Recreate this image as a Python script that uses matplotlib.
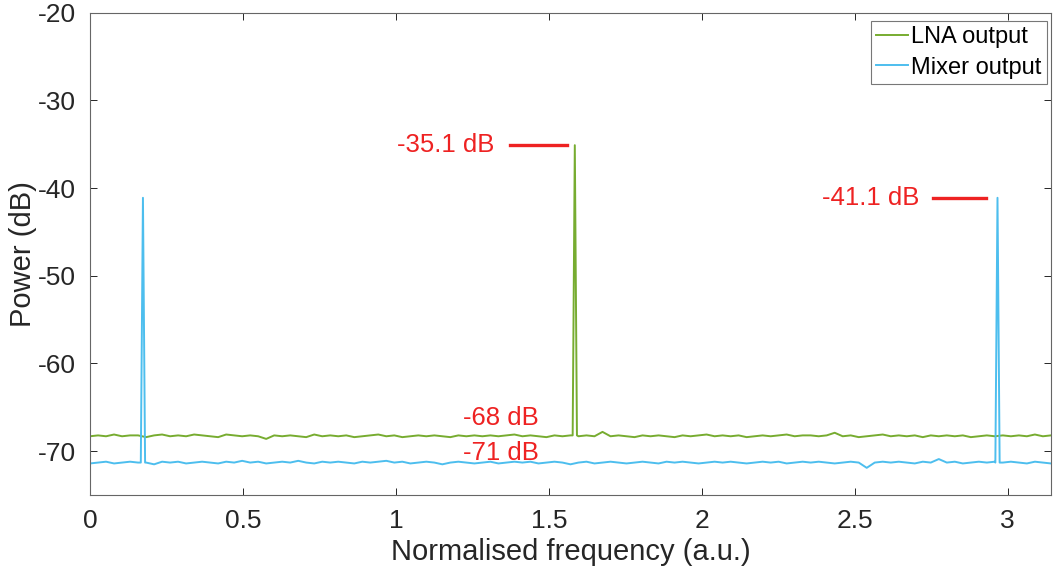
import numpy as np
import matplotlib
matplotlib.use("Agg")
import matplotlib.pyplot as plt

plt.rcParams["font.family"] = ["Liberation Sans", "DejaVu Sans"]
plt.rcParams["axes.unicode_minus"] = False

# frequency grid for the noise floor samples (0 .. pi)
freq = np.linspace(0, np.pi, 121)

# LNA output noise floor (dB)
lna_floor = [
    -68.3, -68.2, -68.3, -68.1, -68.3, -68.2, -68.2, -68.4, -68.2, -68.1,
    -68.3, -68.2, -68.3, -68.1, -68.2, -68.3, -68.4, -68.1, -68.2, -68.3,
    -68.2, -68.3, -68.6, -68.2, -68.3, -68.2, -68.3, -68.4, -68.1, -68.3,
    -68.2, -68.3, -68.2, -68.4, -68.3, -68.2, -68.1, -68.3, -68.2, -68.4,
    -68.3, -68.2, -68.3, -68.2, -68.3, -68.4, -68.2, -68.3, -68.2, -68.3,
    -68.2, -68.3, -68.2, -68.1, -68.3, -68.2, -68.3, -68.4, -68.2, -68.3,
    -68.2, -68.3, -68.2, -68.3, -67.8, -68.3, -68.2, -68.3, -68.4, -68.2,
    -68.3, -68.2, -68.3, -68.4, -68.2, -68.3, -68.2, -68.1, -68.3, -68.2,
    -68.3, -68.2, -68.4, -68.3, -68.2, -68.3, -68.2, -68.1, -68.3, -68.2,
    -68.2, -68.3, -68.2, -67.9, -68.3, -68.2, -68.4, -68.3, -68.2, -68.1,
    -68.3, -68.2, -68.3, -68.2, -68.4, -68.2, -68.3, -68.2, -68.3, -68.2,
    -68.4, -68.3, -68.2, -68.3, -68.2, -68.3, -68.2, -68.3, -68.1, -68.3,
    -68.2,
]

# Mixer output noise floor (dB)
mixer_floor = [
    -71.4, -71.3, -71.2, -71.4, -71.3, -71.2, -71.3, -71.3, -71.5, -71.2,
    -71.3, -71.2, -71.4, -71.3, -71.2, -71.3, -71.4, -71.2, -71.3, -71.1,
    -71.3, -71.2, -71.4, -71.3, -71.2, -71.3, -71.1, -71.3, -71.4, -71.2,
    -71.3, -71.2, -71.3, -71.4, -71.2, -71.3, -71.2, -71.1, -71.3, -71.2,
    -71.4, -71.3, -71.2, -71.3, -71.5, -71.3, -71.2, -71.3, -71.4, -71.3,
    -71.2, -71.4, -71.3, -71.2, -71.3, -71.2, -71.4, -71.3, -71.2, -71.3,
    -71.5, -71.3, -71.2, -71.4, -71.3, -71.2, -71.3, -71.4, -71.3, -71.2,
    -71.3, -71.4, -71.2, -71.3, -71.2, -71.3, -71.4, -71.3, -71.2, -71.3,
    -71.2, -71.3, -71.4, -71.3, -71.2, -71.3, -71.2, -71.4, -71.3, -71.2,
    -71.3, -71.2, -71.3, -71.4, -71.3, -71.2, -71.3, -71.9, -71.3, -71.2,
    -71.3, -71.2, -71.3, -71.4, -71.2, -71.3, -70.9, -71.3, -71.2, -71.4,
    -71.3, -71.2, -71.3, -71.2, -71.3, -71.2, -71.3, -71.4, -71.2, -71.3,
    -71.4,
]

# tone peaks
lna_peak_freq = [1.578, 1.585, 1.592]
lna_peak_db = [-68.2, -35.1, -68.2]
mixer_peak_freq = [0.166, 0.173, 0.180, 2.960, 2.967, 2.974]
mixer_peak_db = [-71.3, -41.1, -71.3, -71.3, -41.1, -71.3]

lna_peak_level = -35.1
mixer_peak_level = -41.1
lna_floor_level = -68
mixer_floor_level = -71


def merge(f, floor, pf, pdb):
    x = np.concatenate([f, pf])
    y = np.concatenate([floor, pdb])
    order = np.argsort(x)
    return x[order], y[order]


lna_x, lna_y = merge(freq, lna_floor, lna_peak_freq, lna_peak_db)
mix_x, mix_y = merge(freq, mixer_floor, mixer_peak_freq, mixer_peak_db)

green = "#77AC30"
blue = "#4DBEEE"
red = "#EE2222"
axcol = "#262626"

fig = plt.figure(figsize=(10.53, 5.81), dpi=100)
ax = fig.add_axes([0.0855, 0.148, 0.9125, 0.830])

ax.plot(lna_x, lna_y, color=green, lw=1.4, label="LNA output")
ax.plot(mix_x, mix_y, color=blue, lw=1.4, label="Mixer output")

ax.set_xlim(0, np.pi)
ax.set_ylim(-75, -20)
ax.set_xticks([0, 0.5, 1, 1.5, 2, 2.5, 3])
ax.set_xticklabels(["0", "0.5", "1", "1.5", "2", "2.5", "3"])
ax.set_yticks([-70, -60, -50, -40, -30, -20])

ax.tick_params(direction="in", length=5, width=0.7, colors=axcol,
               labelsize=19, top=True, right=True, pad=10)
for s in ax.spines.values():
    s.set_color("#666666")
    s.set_linewidth(0.8)

ax.set_xlabel("Normalised frequency (a.u.)", fontsize=21, color=axcol, labelpad=4)
ax.set_ylabel("Power (dB)", fontsize=21, color=axcol, labelpad=1)

# peak markers
ax.plot([1.373, 1.559], [lna_peak_level, lna_peak_level], color=red, lw=2.4)
ax.text(1.323, lna_peak_level, f"{lna_peak_level} dB", color=red, fontsize=18.5,
        ha="right", va="center")
ax.plot([2.755, 2.931], [mixer_peak_level, mixer_peak_level], color=red, lw=2.4)
ax.text(2.712, mixer_peak_level, f"{mixer_peak_level} dB", color=red, fontsize=18.5,
        ha="right", va="center")

# noise floor labels
ax.text(1.219, -66.2, f"{lna_floor_level} dB", color=red, fontsize=18.5,
        ha="left", va="center")
ax.text(1.219, -70.2, f"{mixer_floor_level} dB", color=red, fontsize=18.5,
        ha="left", va="center")

leg = ax.legend(loc="upper right", bbox_to_anchor=(0.9958, 0.9834),
                fontsize=17, frameon=True, fancybox=False,
                handlelength=1.35, handletextpad=0.15, borderpad=0.22,
                labelspacing=0.37, borderaxespad=0)
leg.get_frame().set_edgecolor("#555555")
leg.get_frame().set_linewidth(0.8)

fig.savefig("out.png", dpi=100)
